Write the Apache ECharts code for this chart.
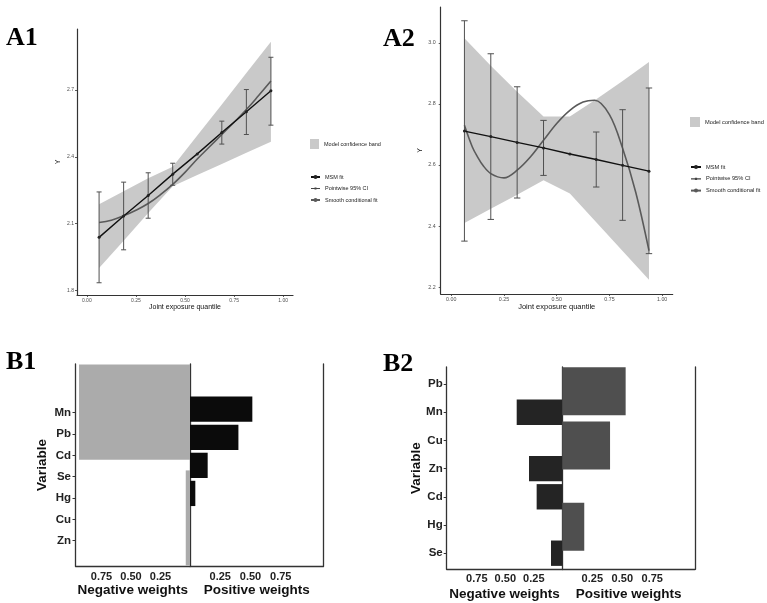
<!DOCTYPE html>
<html>
<head>
<meta charset="utf-8">
<title>qgcomp</title>
<script src="https://cdn.jsdelivr.net/npm/echarts@6/dist/echarts.min.js"></script>
<style>html,body{margin:0;padding:0;background:#fff;}</style>
</head>
<body>
<div id="main" style="width:767px;height:603px;"></div>
<script type="text/javascript">
// joint exposure quantiles
var quant = [0.0625, 0.1875, 0.3125, 0.4375, 0.5625, 0.6875, 0.8125, 0.9375];

// A1
var a1Msm = [2.038, 2.134, 2.226, 2.322, 2.413, 2.509, 2.602, 2.697];
var a1CiLow = [1.834, 1.982, 2.124, 2.272, null, 2.457, 2.500, 2.542];
var a1CiHigh = [2.242, 2.286, 2.328, 2.371, null, 2.560, 2.702, 2.847];
var a1BandLow = [1.900, 2.023, 2.147, 2.268, 2.318, 2.368, 2.418, 2.468];
var a1BandHigh = [2.187, 2.245, 2.303, 2.355, 2.495, 2.635, 2.776, 2.917];
var a1SmoothX = [0.0625, 0.125, 0.1875, 0.25, 0.3125, 0.375, 0.4375, 0.5, 0.5625, 0.625, 0.6875, 0.75, 0.8125, 0.875, 0.9375];
var a1SmoothY = [2.105, 2.115, 2.135, 2.160, 2.190, 2.230, 2.276, 2.330, 2.390, 2.445, 2.500, 2.555, 2.612, 2.675, 2.740];

// A2
var a2Msm = [2.711, 2.693, 2.674, 2.656, 2.636, 2.618, 2.599, 2.580];
var a2CiLow = [2.351, 2.422, 2.492, 2.566, null, 2.528, 2.419, 2.310];
var a2CiHigh = [3.072, 2.964, 2.856, 2.746, null, 2.708, 2.781, 2.852];
var a2BandLow = [2.410, 2.457, 2.503, 2.550, 2.507, 2.413, 2.319, 2.225];
var a2BandHigh = [3.015, 2.925, 2.840, 2.759, 2.759, 2.815, 2.875, 2.937];
var a2SmoothX = [0.0625, 0.10, 0.125, 0.15, 0.1875, 0.25, 0.3125, 0.375, 0.4375, 0.5, 0.5625, 0.625, 0.68, 0.75, 0.8125, 0.875, 0.9375];
var a2SmoothY = [2.730, 2.659, 2.626, 2.599, 2.572, 2.558, 2.583, 2.626, 2.681, 2.736, 2.779, 2.806, 2.812, 2.765, 2.655, 2.510, 2.320];

// tick labels
var aXTicks = [0, 0.25, 0.5, 0.75, 1];
var a1YTicks = [1.8, 2.1, 2.4, 2.7];
var a2YTicks = [2.2, 2.4, 2.6, 2.8, 3.0];
var weightTicks = [0.25, 0.5, 0.75];

// B1 weights
var b1Vars = ['Mn', 'Pb', 'Cd', 'Se', 'Hg', 'Cu', 'Zn'];
var b1NegSlots = ['1', '2'];
var b1Neg = [0.94, 0.036];
var b1PosSlots = ['1', '2', '3', '4', '5', '6', '7'];
var b1Pos = [null, 0.515, 0.40, 0.146, 0.044, null, null];

// B2 weights
var b2Vars = ['Pb', 'Mn', 'Cu', 'Zn', 'Cd', 'Hg', 'Se'];
var b2Neg = [null, 0.40, null, 0.292, 0.225, null, 0.099];
var b2Pos = [0.528, null, 0.398, null, null, 0.183, null];

var SANS = "'Liberation Sans', Arial, sans-serif";
var SERIF = "'Liberation Serif', 'Times New Roman', serif";

function pairs(xs, ys) {
    return xs.map(function (x, i) { return [x, ys[i]]; });
}
function triples(xs, lo, hi) {
    var out = [];
    for (var i = 0; i < xs.length; i++) {
        if (lo[i] != null) out.push([xs[i], lo[i], hi[i]]);
    }
    return out;
}

function bandItem(params, api) {
    if (params.dataIndexInside !== 0) return null;
    var n = params.dataInsideLength, top = [], bot = [];
    for (var j = 0; j < n; j++) {
        top.push(api.coord([api.value(0, j), api.value(2, j)]));
        bot.unshift(api.coord([api.value(0, j), api.value(1, j)]));
    }
    return { type: 'polygon', shape: { points: top.concat(bot) }, style: { fill: '#c9c9c9' } };
}

function errItem(cap) {
    return function (params, api) {
        var x = api.value(0);
        var lo = api.coord([x, api.value(1)]);
        var hi = api.coord([x, api.value(2)]);
        var st = { stroke: '#505050', lineWidth: 1 };
        return {
            type: 'group', children: [
                { type: 'line', shape: { x1: lo[0], y1: lo[1], x2: hi[0], y2: hi[1] }, style: st },
                { type: 'line', shape: { x1: lo[0] - cap, y1: lo[1], x2: lo[0] + cap, y2: lo[1] }, style: st },
                { type: 'line', shape: { x1: hi[0] - cap, y1: hi[1], x2: hi[0] + cap, y2: hi[1] }, style: st }
            ]
        };
    };
}

function aX(gi, fs, nfs, gap) {
    return {
        gridIndex: gi, type: 'value', min: -0.05, max: 1.05,
        splitLine: { show: false },
        axisLine: { onZero: false, lineStyle: { color: '#333', width: 1.2 } },
        axisTick: { show: true, length: 2, customValues: aXTicks, lineStyle: { color: '#333', width: 0.8 } },
        axisLabel: { customValues: aXTicks, fontSize: fs, color: '#4d4d4d', margin: 3, fontFamily: SANS,
            formatter: function (v) { return v.toFixed(2); } },
        name: 'Joint exposure quantile', nameLocation: 'middle', nameGap: gap,
        nameTextStyle: { fontSize: nfs, color: '#111', fontFamily: SANS }
    };
}
function aY(gi, min, max, ticks, fs, margin, gap) {
    return {
        gridIndex: gi, type: 'value', min: min, max: max,
        splitLine: { show: false },
        axisLine: { onZero: false, lineStyle: { color: '#333', width: 1.2 } },
        axisTick: { show: true, length: 2, customValues: ticks, lineStyle: { color: '#333', width: 0.8 } },
        axisLabel: { customValues: ticks, fontSize: fs, color: '#4d4d4d', margin: margin, fontFamily: SANS,
            formatter: function (v) { return v.toFixed(1); } },
        name: 'Y', nameLocation: 'middle', nameGap: gap,
        nameTextStyle: { fontSize: 7, color: '#111', fontFamily: SANS }
    };
}
function bFrameX(gi, max, inverse, name, margin, gap) {
    return {
        gridIndex: gi, type: 'value', min: 0, max: max, inverse: inverse,
        splitLine: { show: false },
        axisLine: { onZero: false, lineStyle: { color: '#333', width: 1.3 } },
        axisTick: { show: false },
        axisLabel: { customValues: weightTicks, fontSize: 11, fontWeight: 'bold', color: '#222', margin: margin,
            fontFamily: SANS, formatter: function (v) { return v.toFixed(2); } },
        name: name, nameLocation: 'middle', nameGap: gap,
        nameTextStyle: { fontSize: 13.5, fontWeight: 'bold', color: '#111', fontFamily: SANS }
    };
}
function bFrameY(gi, position, name, gap) {
    return {
        gridIndex: gi, type: 'value', min: 0, max: 1, position: position,
        splitLine: { show: false }, axisTick: { show: false }, axisLabel: { show: false },
        axisLine: { show: true, onZero: false, lineStyle: { color: '#333', width: 1.3 } },
        name: name, nameLocation: 'middle', nameGap: gap,
        nameTextStyle: { fontSize: 13.5, fontWeight: 'bold', color: '#111', fontFamily: SANS }
    };
}
function hiddenX(gi, max, inverse) {
    return { gridIndex: gi, type: 'value', min: 0, max: max, inverse: inverse, show: false };
}
function hiddenCat(gi, cats) {
    return { gridIndex: gi, type: 'category', data: cats, inverse: true, show: false };
}
function labelCat(gi, cats, margin) {
    return {
        gridIndex: gi, type: 'category', data: cats, inverse: true, position: 'left',
        axisLine: { show: false, onZero: false },
        axisTick: { show: true, alignWithLabel: true, length: 3, lineStyle: { color: '#333', width: 1 } },
        axisLabel: { interval: 0, fontSize: 11.5, fontWeight: 'bold', color: '#222', margin: margin, fontFamily: SANS },
        splitLine: { show: false }
    };
}
function g(left, top, width, height) {
    return { left: left, top: top, width: width, height: height, containLabel: false, outerBoundsMode: 'none' };
}

var ciIcon = 'path://M0,4.4H10V5.6H0Z M3.9,3.9H6.1V6.1H3.9Z';

var option = {
    animation: false,
    backgroundColor: '#fff',
    graphic: [
        { type: 'text', x: 6, y: 38, style: { text: 'A1', fontFamily: SERIF, fontWeight: 'bold', fontSize: 26, fill: '#000', verticalAlign: 'middle' } },
        { type: 'text', x: 383, y: 39, style: { text: 'A2', fontFamily: SERIF, fontWeight: 'bold', fontSize: 26, fill: '#000', verticalAlign: 'middle' } },
        { type: 'text', x: 6, y: 362.5, style: { text: 'B1', fontFamily: SERIF, fontWeight: 'bold', fontSize: 26, fill: '#000', verticalAlign: 'middle' } },
        { type: 'text', x: 383, y: 364, style: { text: 'B2', fontFamily: SERIF, fontWeight: 'bold', fontSize: 26, fill: '#000', verticalAlign: 'middle' } }
    ],
    legend: [
        { left: 305, top: 134, itemWidth: 9, itemHeight: 10, selectedMode: false,
          textStyle: { fontSize: 5.5, color: '#222', fontFamily: SANS },
          data: [{ name: 'Model confidence band', icon: 'rect' }] },
        { left: 305, top: 169, orient: 'vertical', itemWidth: 9, itemHeight: 5, itemGap: 5.5, selectedMode: false,
          textStyle: { fontSize: 5.5, lineHeight: 6, color: '#222', fontFamily: SANS },
          data: ['MSM fit', { name: 'Pointwise 95% CI', icon: ciIcon }, 'Smooth conditional fit'] },
        { left: 685, top: 112, itemWidth: 10, itemHeight: 10, selectedMode: false,
          textStyle: { fontSize: 5.7, color: '#222', fontFamily: SANS },
          data: [{ name: 'Model confidence band', icon: 'rect' }] },
        { left: 685, top: 159, orient: 'vertical', itemWidth: 10, itemHeight: 5, itemGap: 5.8, selectedMode: false,
          textStyle: { fontSize: 5.7, lineHeight: 6, color: '#222', fontFamily: SANS },
          data: ['MSM fit', { name: 'Pointwise 95% CI', icon: ciIcon }, 'Smooth conditional fit'] }
    ],
    grid: [
        g(77, 29, 216, 266),          // 0 A1
        g(440.7, 7, 232, 287),        // 1 A2
        g(75.5, 364, 114.5, 202),     // 2 B1 negative frame
        g(190, 364, 133.5, 202),      // 3 B1 positive frame
        g(75.5, 402, 114.5, 149.4),   // 4 B1 variable labels
        g(75.5, 359.3, 114.5, 211.6), // 5 B1 negative bars
        g(190, 367.1, 133.5, 196.5),  // 6 B1 positive bars
        g(446.7, 367, 115.6, 202.3),  // 7 B2 negative frame
        g(562.3, 367, 132.7, 202.3),  // 8 B2 positive frame
        g(446.7, 369.9, 115.6, 197.4),// 9 B2 negative bars + labels
        g(562.3, 377.8, 132.7, 189.5) // 10 B2 positive bars
    ],
    xAxis: [
        aX(0, 5, 7, 8.5),
        aX(1, 5.3, 7.5, 7.5),
        bFrameX(2, 0.97, true, 'Negative weights', 5, 17),
        bFrameX(3, 1.103, false, 'Positive weights', 5, 17),
        { gridIndex: 4, type: 'value', show: false },
        hiddenX(5, 0.97, true),
        hiddenX(6, 1.103, false),
        bFrameX(7, 1.014, true, 'Negative weights', 4, 17.5),
        bFrameX(8, 1.106, false, 'Positive weights', 4, 17.5),
        hiddenX(9, 1.014, true),
        hiddenX(10, 1.106, false)
    ],
    yAxis: [
        aY(0, 1.779, 2.974, a1YTicks, 5, 3, 15),
        aY(1, 2.178, 3.117, a2YTicks, 5.3, 5, 17),
        bFrameY(2, 'left', 'Variable', 26),
        bFrameY(3, 'left', '', 0),
        labelCat(4, b1Vars, 4.5),
        hiddenCat(5, b1NegSlots),
        hiddenCat(6, b1PosSlots),
        bFrameY(7, 'left', 'Variable', 23.5),
        bFrameY(8, 'left', '', 0),
        labelCat(9, b2Vars, 4),
        hiddenCat(10, b2Vars),
        bFrameY(3, 'right', '', 0),
        bFrameY(8, 'right', '', 0)
    ],
    series: [
        // A1
        { name: 'Model confidence band', type: 'custom', xAxisIndex: 0, yAxisIndex: 0,
          renderItem: bandItem, itemStyle: { color: '#c9c9c9' }, data: triples(quant, a1BandLow, a1BandHigh), z: 1 },
        { name: 'Smooth conditional fit', type: 'line', xAxisIndex: 0, yAxisIndex: 0, smooth: 0.4, symbol: 'none',
          lineStyle: { color: '#5a5a5a', width: 1.6 }, itemStyle: { color: '#5a5a5a' }, data: pairs(a1SmoothX, a1SmoothY), z: 2 },
        { name: 'Pointwise 95% CI', type: 'custom', xAxisIndex: 0, yAxisIndex: 0, renderItem: errItem(2.5),
          itemStyle: { color: '#444' }, data: triples(quant, a1CiLow, a1CiHigh), z: 3 },
        { name: 'MSM fit', type: 'line', xAxisIndex: 0, yAxisIndex: 0, symbol: 'circle', symbolSize: 3,
          lineStyle: { color: '#111', width: 1.4 }, itemStyle: { color: '#222' }, data: pairs(quant, a1Msm), z: 4 },
        // A2
        { name: 'Model confidence band', type: 'custom', xAxisIndex: 1, yAxisIndex: 1,
          renderItem: bandItem, itemStyle: { color: '#c9c9c9' }, data: triples(quant, a2BandLow, a2BandHigh), z: 1 },
        { name: 'Smooth conditional fit', type: 'line', xAxisIndex: 1, yAxisIndex: 1, smooth: 0.35, symbol: 'none',
          lineStyle: { color: '#5a5a5a', width: 1.6 }, itemStyle: { color: '#5a5a5a' }, data: pairs(a2SmoothX, a2SmoothY), z: 2 },
        { name: 'Pointwise 95% CI', type: 'custom', xAxisIndex: 1, yAxisIndex: 1, renderItem: errItem(3.2),
          itemStyle: { color: '#444' }, data: triples(quant, a2CiLow, a2CiHigh), z: 3 },
        { name: 'MSM fit', type: 'line', xAxisIndex: 1, yAxisIndex: 1, symbol: 'circle', symbolSize: 3,
          lineStyle: { color: '#111', width: 1.4 }, itemStyle: { color: '#222' }, data: pairs(quant, a2Msm), z: 4 },
        // B1
        { type: 'bar', xAxisIndex: 5, yAxisIndex: 5, data: b1Neg, barCategoryGap: '10%',
          itemStyle: { color: '#ababab' }, clip: false },
        { type: 'bar', xAxisIndex: 6, yAxisIndex: 6, data: b1Pos, barCategoryGap: '10%',
          itemStyle: { color: '#0b0b0b' }, clip: false },
        // B2
        { type: 'bar', xAxisIndex: 9, yAxisIndex: 9, data: b2Neg, barCategoryGap: '10%',
          itemStyle: { color: '#242424' }, clip: false },
        { type: 'bar', xAxisIndex: 10, yAxisIndex: 10, data: b2Pos, barWidth: 48,
          itemStyle: { color: '#4f4f4f' }, clip: false }
    ]
};

var myChart = echarts.init(document.getElementById('main'));
myChart.setOption(option);
</script>
</body>
</html>
